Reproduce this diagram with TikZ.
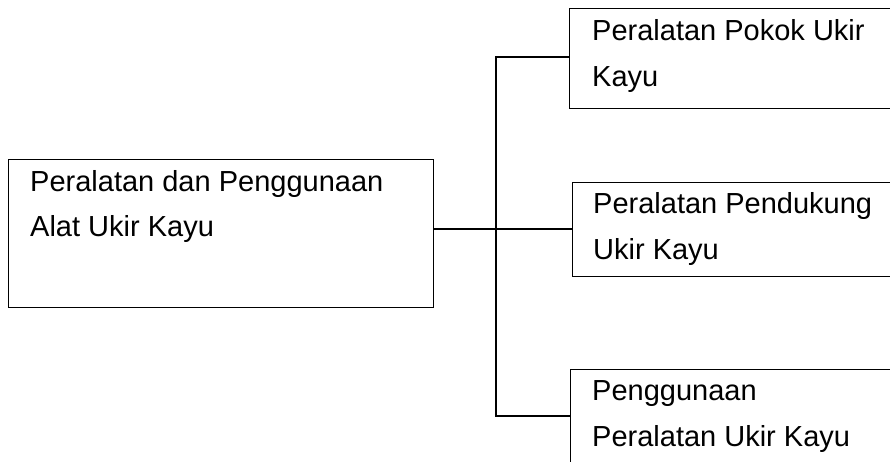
\documentclass[tikz,border=0pt]{standalone}
\usepackage{fontspec}
\setmainfont{Liberation Sans}
\begin{document}
\begin{tikzpicture}[x=1pt,y=-1pt,
  box/.style={draw=black,line width=1.3pt,rectangle,inner sep=0pt,anchor=north west,fill=white},
  lbl/.style={inner sep=0pt,anchor=base west,align=left,font=\fontsize{29}{45.5}\selectfont},
  conn/.style={draw=black,line width=1.3pt}]
\useasboundingbox (0,0) rectangle (890,461);
\clip (0,0) rectangle (890,461);
\fill[white] (0,0) rectangle (890,461);
\node[box,minimum width=425pt,minimum height=148pt] (main) at (8,159) {};
\node[box,minimum width=360pt,minimum height=100pt] (b1) at (569,8) {};
\node[box,minimum width=360pt,minimum height=94pt] (b2) at (572,182) {};
\node[box,minimum width=360pt,minimum height=94pt] (b3) at (570,369) {};
\coordinate (j) at (496,229);
\coordinate (jt) at (496,57);
\coordinate (jb) at (496,416);
\draw[conn] (main.east |- j) -- (j) -- (b2.west |- j);
\draw[conn] (b1.west |- jt) -- (jt) -- (jb) -- (b3.west |- jb);
\node[lbl] (t0) at (30,236.7) {Peralatan dan Penggunaan\\Alat Ukir Kayu};
\node[lbl] (t1) at (592,86) {Peralatan Pokok Ukir\\Kayu};
\node[lbl] (t2) at (593,259) {Peralatan Pendukung\\Ukir Kayu};
\node[lbl] (t3) at (592,446) {Penggunaan\\Peralatan Ukir Kayu};
\end{tikzpicture}
\end{document}
